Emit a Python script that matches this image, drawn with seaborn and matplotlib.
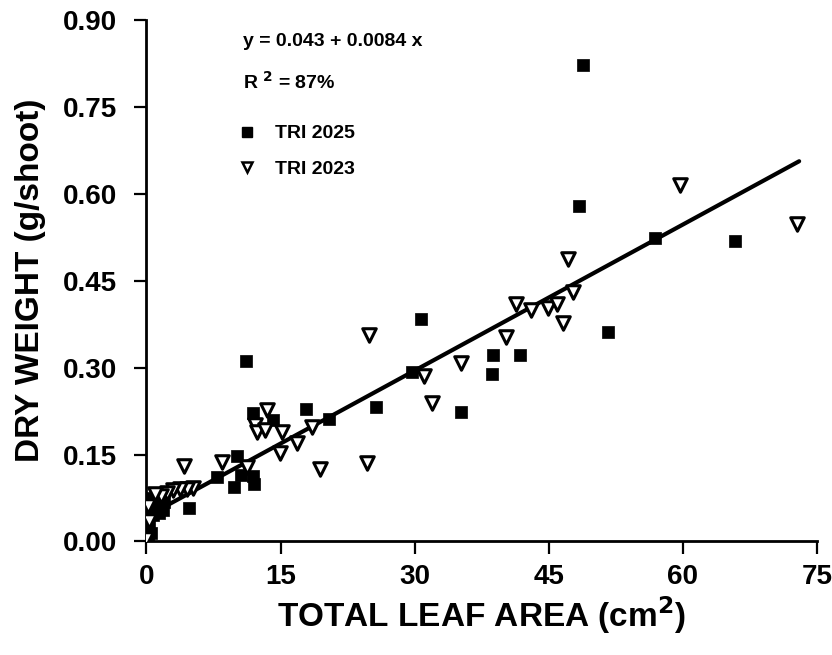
import matplotlib
matplotlib.use("Agg")
import matplotlib.pyplot as plt
import numpy as np
import pandas as pd
import seaborn as sns

# Leaf area (cm^2) and dry weight (g/shoot) per shoot, two clones
tri2025_area = [48.8, 48.4, 56.9, 65.8, 51.6, 30.7, 38.8, 41.8, 38.6, 35.2,
                29.7, 25.7, 20.4, 17.8, 11.1, 11.9, 14.1, 10.1, 10.6, 11.9,
                9.8, 12.0, 7.9, 4.8,
                0.0, 0.6, 1.3, 2.0, 1.0, 1.8, 0.4, 0.2, 0.7, 0.3, 0.0, 0.5,
                0.2, 1.4]
tri2025_dw = [0.822, 0.579, 0.524, 0.519, 0.362, 0.384, 0.322, 0.322, 0.289, 0.224,
              0.293, 0.232, 0.211, 0.229, 0.311, 0.221, 0.209, 0.147, 0.115, 0.113,
              0.094, 0.100, 0.111, 0.058,
              0.075, 0.072, 0.070, 0.068, 0.060, 0.055, 0.055, 0.040, 0.045, 0.028,
              0.018, 0.015, 0.005, 0.050]

tri2023_area = [59.7, 72.8, 47.1, 47.7, 41.3, 43.0, 44.9, 45.9, 46.6, 40.2,
                35.2, 31.0, 31.9, 24.9, 18.5, 16.8, 19.4, 24.7, 13.5, 12.1,
                12.4, 13.3, 15.2, 14.9, 8.4, 11.2, 4.2, 5.2, 4.5, 3.7, 3.0,
                2.3, 1.6, 0.2, 1.0, 0.3, 0.0]
tri2023_dw = [0.615, 0.548, 0.487, 0.430, 0.410, 0.400, 0.403, 0.410, 0.377, 0.353,
              0.308, 0.285, 0.239, 0.356, 0.198, 0.170, 0.125, 0.135, 0.227, 0.201,
              0.189, 0.192, 0.189, 0.153, 0.137, 0.129, 0.130, 0.092, 0.090, 0.090,
              0.088, 0.083, 0.078, 0.062, 0.082, 0.035, 0.004]

clone_labels = ["TRI 2025", "TRI 2023"]

# Fitted regression: dry weight = a + b * leaf area
intercept = 0.043
slope = 0.0084
r_squared = 87
fit_range = [0.0, 73.0]

x_ticks = [0, 15, 30, 45, 60, 75]
y_ticks = [0.00, 0.15, 0.30, 0.45, 0.60, 0.75, 0.90]

sns.set_style("ticks")
plt.rcParams["font.family"] = ["Liberation Sans", "DejaVu Sans"]
plt.rcParams["font.weight"] = "bold"
for key in ["text.color", "axes.labelcolor", "xtick.color", "ytick.color",
            "axes.edgecolor"]:
    plt.rcParams[key] = "black"

df = pd.DataFrame({
    "area": tri2025_area + tri2023_area,
    "dw": tri2025_dw + tri2023_dw,
    "clone": [clone_labels[0]] * len(tri2025_area) + [clone_labels[1]] * len(tri2023_area),
})

fig = plt.figure(figsize=(8.32, 6.55), dpi=100)
ax = fig.add_axes([0.176, 0.1733, 0.806, 0.7962])

fit_x = np.linspace(fit_range[0], fit_range[1], 50)
fit_df = pd.DataFrame({"area": fit_x, "dw": intercept + slope * fit_x})
sns.lineplot(data=fit_df, x="area", y="dw", color="black", linewidth=3.0, ax=ax,
             zorder=2, legend=False)

sq = df[df.clone == clone_labels[0]]
tr = df[df.clone == clone_labels[1]]
sns.scatterplot(data=sq, x="area", y="dw", marker="s", s=70, color="black",
                edgecolor="black", linewidth=0.5, ax=ax, zorder=3, legend=False)
sns.scatterplot(data=tr, x="area", y="dw", marker="v", s=95, facecolor="white",
                edgecolor="black", linewidth=2.2, ax=ax, zorder=4, legend=False)

ax.set_xlim(0, 75)
ax.set_ylim(0, 0.9)
ax.set_xticks(x_ticks)
ax.set_yticks(y_ticks)
ax.set_xticklabels([str(t) for t in x_ticks], fontsize=20, fontweight="bold")
ax.set_yticklabels([f"{t:.2f}" for t in y_ticks], fontsize=20, fontweight="bold")
ax.tick_params(direction="out", length=9, width=1.6, colors="black")
ax.tick_params(axis="y", pad=12)
ax.tick_params(axis="x", pad=7)
for side in ["left", "bottom"]:
    ax.spines[side].set_linewidth(2.0)
    ax.spines[side].set_color("black")
sns.despine(ax=ax)
for side in ["left", "bottom"]:
    ax.spines[side].set_clip_on(False)

ax.set_xlabel("TOTAL LEAF AREA (cm$\\mathbf{^2}$)", fontsize=24, fontweight="bold",
              labelpad=3)
ax.set_ylabel("DRY WEIGHT (g/shoot)", fontsize=24, fontweight="bold", labelpad=12)

ax.text(10.8, 0.862, f"y = {intercept:.3f} + {slope:.4f} x", fontsize=14,
        fontweight="bold", va="center", ha="left")
ax.text(10.8, 0.793, f"R $^{{\\mathbf{{2}}}}$ = {r_squared}%", fontsize=14,
        fontweight="bold", va="center", ha="left")

handles = [
    plt.Line2D([], [], marker="s", linestyle="none", markersize=7,
               markerfacecolor="black", markeredgecolor="black"),
    plt.Line2D([], [], marker="v", linestyle="none", markersize=7.5,
               markerfacecolor="white", markeredgecolor="black", markeredgewidth=1.8),
]
ax.legend(handles, clone_labels, loc="upper left", bbox_to_anchor=(0.1326, 0.799),
          frameon=False, prop={"weight": "bold", "size": 14}, borderaxespad=0,
          handletextpad=0.85, labelspacing=0.9, handlelength=1.2, borderpad=0)

fig.savefig("out.png", dpi=100)
